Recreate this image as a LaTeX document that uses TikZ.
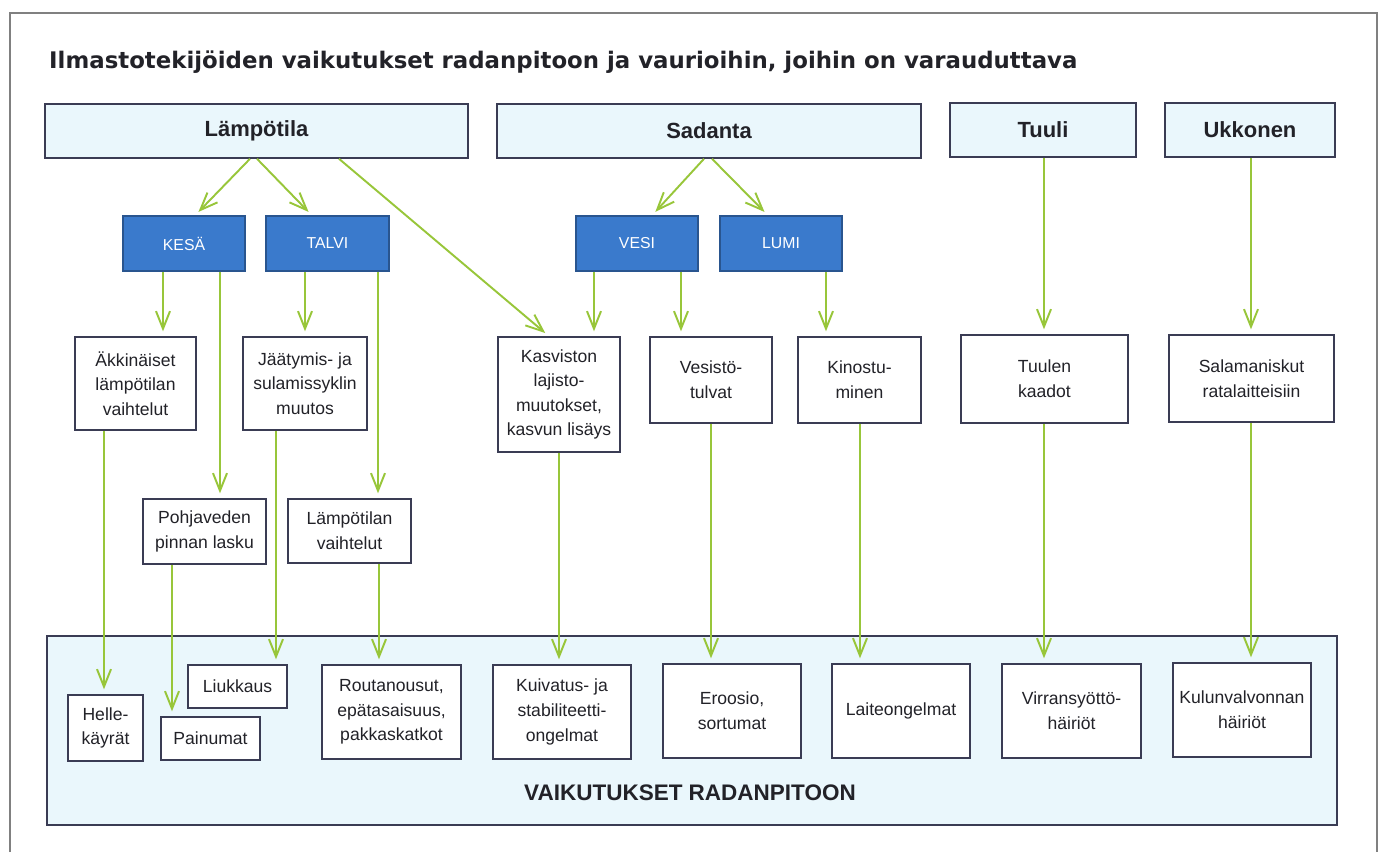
\documentclass[tikz,border=0pt]{standalone}
\usepackage{fontspec}
\setmainfont{Liberation Sans}
\newfontfamily\titlefont{DejaVu Sans}
\usetikzlibrary{arrows.meta}

\definecolor{arrowgreen}{RGB}{152,198,58}
\definecolor{boxline}{RGB}{58,60,84}
\definecolor{paleblue}{RGB}{234,247,252}
\definecolor{seasonblue}{RGB}{58,122,204}
\definecolor{darktext}{RGB}{34,34,40}

\tikzset{
  arr/.style={draw=arrowgreen, line width=1.1pt, -{Straight Barb[length=10pt,width=8pt]}, shorten >=2.8pt},
  sz/.style 2 args={minimum width=#1*0.02cm, minimum height=#2*0.02cm},
  factor/.style={draw=boxline, line width=0.9pt, fill=paleblue, inner sep=0pt, text=darktext,
    font=\fontsize{12.5}{14}\selectfont\bfseries},
  season/.style={draw=seasonblue!70!black, line width=0.6pt, fill=seasonblue, inner sep=0pt,
    text=white, font=\fontsize{9}{11}\selectfont},
  effect/.style={draw=boxline, line width=0.9pt, fill=white, inner sep=0pt, align=center,
    text=darktext, font=\fontsize{10}{14}\selectfont},
}

\begin{document}
\begin{tikzpicture}[x={(0.02cm,0cm)}, y={(0cm,-0.02cm)}]

    \useasboundingbox (0,0) rectangle (1386,852);

    % Frame and title
    \draw[gray, line width=0.6pt] (10,852) -- (10,13) -- (1377,13) -- (1377,852);
    \node[anchor=west, text=darktext, font=\titlefont\fontsize{13}{15}\selectfont\bfseries] (title) at (43,62)
      {Ilmastotekijöiden vaikutukset radanpitoon ja vaurioihin, joihin on varauduttava};

    % Climate factors
    \node[factor, sz={423}{54}] (lamp) at (256.5,131) {Lämpötila};
    \node[factor, sz={424}{54}] (sad) at (709,131) {Sadanta};
    \node[factor, sz={186}{54}] (tuuli) at (1043,130) {Tuuli};
    \node[factor, sz={170}{54}] (ukk) at (1250,130) {Ukkonen};

    % Seasons and forms
    \node[season, sz={122}{55}] (kesa) at (184,243.5) {KESÄ};
    \node[season, sz={123}{55}] (talvi) at (327.5,243.5) {TALVI};
    \node[season, sz={122}{55}] (vesi) at (637,243.5) {VESI};
    \node[season, sz={122}{55}] (lumi) at (781,243.5) {LUMI};

    % Phenomena
    \node[effect, sz={121}{93}] (akk) at (135.5,383.5) {Äkkinäiset\\lämpötilan\\vaihtelut};
    \node[effect, sz={124}{93}] (jaa) at (305,383.5) {Jäätymis- ja\\sulamissyklin\\muutos};
    \node[effect, sz={122}{115}] (kasv) at (559,394.5) {Kasviston\\lajisto-\\muutokset,\\kasvun lisäys};
    \node[effect, sz={122}{86}] (vesis) at (711,380) {Vesistö-\\tulvat};
    \node[effect, sz={123}{86}] (kino) at (859.5,380) {Kinostu-\\minen};
    \node[effect, sz={167}{88}] (tkaad) at (1044.5,379) {Tuulen\\kaadot};
    \node[effect, sz={165}{87}] (salam) at (1251.5,378.5) {Salamaniskut\\ratalaitteisiin};
    \node[effect, sz={123}{65}] (pohja) at (204.5,531.5) {Pohjaveden\\pinnan lasku};
    \node[effect, sz={123}{64}] (lvaiht) at (349.5,531) {Lämpötilan\\vaihtelut};

    % Effects on track maintenance
    \node[draw=boxline, line width=0.9pt, fill=paleblue, sz={1290}{189}] (vaik) at (692,730.5) {};
    \node[text=darktext, font=\fontsize{12.8}{14}\selectfont\bfseries] (vaiklbl) at (690,793) {VAIKUTUKSET RADANPITOON};
    \node[effect, sz={75}{66}] (helle) at (105.5,728) {Helle-\\käyrät};
    \node[effect, sz={99}{43}] (painu) at (210.5,738.5) {Painumat};
    \node[effect, sz={99}{43}] (liuk) at (237.5,686.5) {Liukkaus};
    \node[effect, sz={139}{94}] (routa) at (391.5,712) {Routanousut,\\epätasaisuus,\\pakkaskatkot};
    \node[effect, sz={138}{94}] (kuiv) at (562,712) {Kuivatus- ja\\stabiliteetti-\\ongelmat};
    \node[effect, sz={138}{94}] (eroo) at (732,711) {Eroosio,\\sortumat};
    \node[effect, sz={138}{94}] (laite) at (901,711) {Laiteongelmat};
    \node[effect, sz={139}{94}] (virr) at (1071.5,711) {Virransyöttö-\\häiriöt};
    \node[effect, sz={138}{94}] (kulun) at (1242,710) {Kulunvalvonnan\\häiriöt};

    % Slanted arrows
    \draw[arr] (lamp.south -| 250,0) -- (kesa.north -| 195,0);
    \draw[arr] (lamp.south -| 257,0) -- (talvi.north -| 312,0);
    \draw[arr] (lamp.south -| 339,0) -- (kasv.north -| 549,0);
    \draw[arr] (sad.south -| 704,0) -- (vesi.north -| 652,0);
    \draw[arr] (sad.south -| 712,0) -- (lumi.north -| 768,0);

    % Vertical arrows
    \foreach \a/\b/\x in {kesa/akk/163, kesa/pohja/220, talvi/jaa/305, talvi/lvaiht/378,
                          vesi/kasv/594, vesi/vesis/681, lumi/kino/826, tuuli/tkaad/1044,
                          ukk/salam/1251, akk/helle/104, pohja/painu/172, jaa/liuk/276,
                          lvaiht/routa/379, kasv/kuiv/559, vesis/eroo/711, kino/laite/860,
                          tkaad/virr/1044, salam/kulun/1251}
      \draw[arr] (\a.south -| \x,0) -- (\b.north -| \x,0);

\end{tikzpicture}
\end{document}
